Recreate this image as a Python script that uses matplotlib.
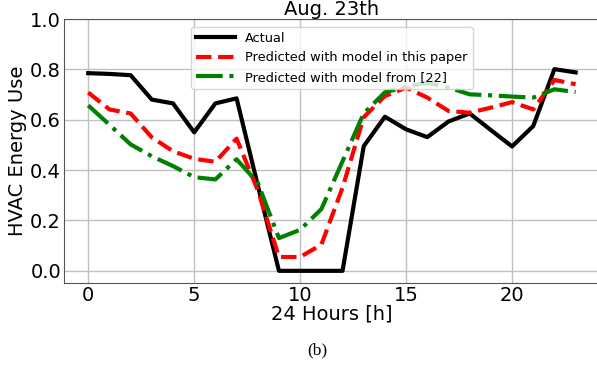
import matplotlib
matplotlib.use('Agg')
import matplotlib.pyplot as plt

# Hourly HVAC energy use, Aug. 23rd
hours = list(range(24))
actual = [0.785, 0.782, 0.777, 0.68, 0.665, 0.55, 0.665, 0.685, 0.34, 0.0, 0.0, 0.0,
          0.0, 0.495, 0.612, 0.562, 0.531, 0.593, 0.625, 0.559, 0.494, 0.575, 0.801, 0.788]
pred_paper = [0.708, 0.641, 0.625, 0.53, 0.475, 0.445, 0.433, 0.525, 0.32, 0.055, 0.055, 0.104,
              0.33, 0.61, 0.694, 0.728, 0.688, 0.635, 0.628, 0.648, 0.67, 0.641, 0.758, 0.741]
pred_ref = [0.657, 0.58, 0.502, 0.455, 0.416, 0.372, 0.363, 0.443, 0.35, 0.13, 0.163, 0.245,
            0.435, 0.625, 0.709, 0.731, 0.747, 0.728, 0.701, 0.697, 0.692, 0.688, 0.721, 0.71]

fig = plt.figure(figsize=(5.97, 3.66), dpi=100)
ax = fig.add_axes([0.107, 0.227, 0.898, 0.721])

ax.plot(hours, actual, color='black', lw=3, label='Actual')
ax.plot(hours, pred_paper, color='red', lw=3, ls='--', label='Predicted with model in this paper')
ax.plot(hours, pred_ref, color='green', lw=3, ls='-.', label='Predicted with model from [22]')

ax.set_xlim(-1.15, 24.15)
ax.set_ylim(-0.048, 1.0)
ax.set_xticks([0, 5, 10, 15, 20])
ax.set_yticks([0.0, 0.2, 0.4, 0.6, 0.8, 1.0])
ax.tick_params(labelsize=14, length=0, pad=2)
for s in ax.spines.values():
    s.set_color('#555555')
ax.spines['right'].set_visible(False)
ax.grid(True, color='#c0c0c0', lw=1)
ax.set_xlabel('24 Hours [h]', fontsize=14, labelpad=0)
ax.set_ylabel('HVAC Energy Use', fontsize=14, labelpad=2)
ax.set_title('Aug. 23th', fontsize=14, pad=1.5)
ax.legend(loc='upper center', fontsize=9.3, handlelength=3.0, borderaxespad=0.6)

fig.text(0.532, 0.044, '(b)', family='Liberation Serif', fontsize=12.5, ha='center', va='center')

fig.savefig('out.png', dpi=100)
